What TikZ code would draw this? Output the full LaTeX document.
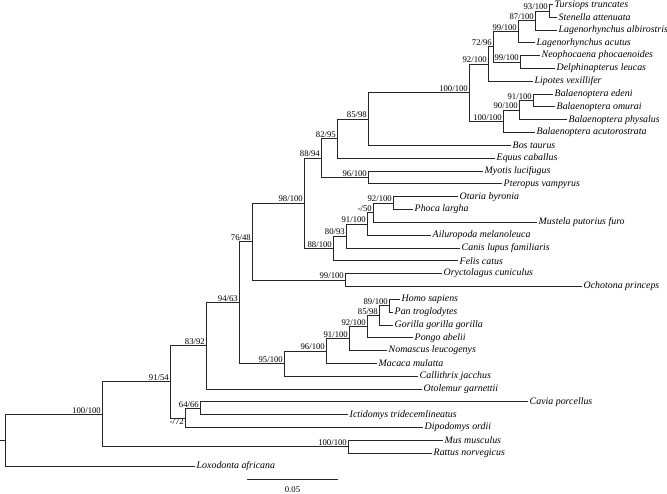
\documentclass[tikz,border=0pt]{standalone}
\usepackage{fontspec}
\setmainfont{Liberation Serif}
\begin{document}
\begin{tikzpicture}[x=1pt,y=-1pt,
  branch/.style={draw=black!85, line width=0.8pt},
  leaf/.style={anchor=west, inner sep=1.5pt, font=\fontsize{9.9}{11}\selectfont\itshape},
  sup/.style={anchor=south east, inner sep=1pt, font=\fontsize{8.7}{9}\selectfont},
  supb/.style={anchor=north east, inner sep=1pt, font=\fontsize{8.7}{9}\selectfont}]
\useasboundingbox (0,0) rectangle (667,494);
% leaves
\node[leaf] (tur) at (553,4.8) {Tursiops truncates};
\node[leaf] (ste) at (557,17.125) {Stenella attenuata};
\node[leaf] (lal) at (557,29.95) {Lagenorhynchus albirostris};
\node[leaf] (lac) at (535,42.775) {Lagenorhynchus acutus};
\node[leaf] (neo) at (540,55.6) {Neophocaena phocaenoides};
\node[leaf] (del) at (555,68.425) {Delphinapterus leucas};
\node[leaf] (lip) at (533,81.25) {Lipotes vexillifer};
\node[leaf] (bed) at (553,94.075) {Balaenoptera edeni};
\node[leaf] (bom) at (555,106.9) {Balaenoptera omurai};
\node[leaf] (bph) at (567,119.725) {Balaenoptera physalus};
\node[leaf] (bac) at (535,132.55) {Balaenoptera acutorostrata};
\node[leaf] (bos) at (511,145.375) {Bos taurus};
\node[leaf] (equ) at (495,158.2) {Equus caballus};
\node[leaf] (myo) at (483,171.025) {Myotis lucifugus};
\node[leaf] (pte) at (502,183.85) {Pteropus vampyrus};
\node[leaf] (ota) at (458,196.675) {Otaria byronia};
\node[leaf] (pho) at (413,209.5) {Phoca largha};
\node[leaf] (mus) at (537,222.325) {Mustela putorius furo};
\node[leaf] (ail) at (431,235.15) {Ailuropoda melanoleuca};
\node[leaf] (can) at (460,247.975) {Canis lupus familiaris};
\node[leaf] (fel) at (458,260.8) {Felis catus};
\node[leaf] (ory) at (442,273.625) {Oryctolagus cuniculus};
\node[leaf] (och) at (582,286.45) {Ochotona princeps};
\node[leaf] (hom) at (400,299.275) {Homo sapiens};
\node[leaf] (pan) at (393,312.1) {Pan troglodytes};
\node[leaf] (gor) at (393,324.925) {Gorilla gorilla gorilla};
\node[leaf] (pon) at (413,337.75) {Pongo abelii};
\node[leaf] (nom) at (387,350.575) {Nomascus leucogenys};
\node[leaf] (mac) at (377,363.4) {Macaca mulatta};
\node[leaf] (cal) at (418,376.225) {Callithrix jacchus};
\node[leaf] (oto) at (422,389.05) {Otolemur garnettii};
\node[leaf] (cav) at (528,401.875) {Cavia porcellus};
\node[leaf] (ict) at (348,414.7) {Ictidomys tridecemlineatus};
\node[leaf] (dip) at (423,427.525) {Dipodomys ordii};
\node[leaf] (mmu) at (443,440.35) {Mus musculus};
\node[leaf] (rat) at (432,453.175) {Rattus norvegicus};
\node[leaf] (lox) at (195,466) {Loxodonta africana};
% internal nodes
\coordinate (n93) at (549,10.96);
\coordinate (n87) at (535,20.33);
\coordinate (n99a) at (518,31.55);
\coordinate (n99b) at (520,62.01);
\coordinate (n72) at (493,46.78);
\coordinate (n92) at (488,64.02);
\coordinate (n91b) at (533,100.49);
\coordinate (n90) at (519,110.1);
\coordinate (nbal) at (503,121.33);
\coordinate (nwh) at (469,92.67);
\coordinate (n85) at (368,119.02);
\coordinate (n82) at (337,138.6);
\coordinate (nbat) at (368,177.4);
\coordinate (n88a) at (321,158);
\coordinate (n92c) at (393,203.1);
\coordinate (n50) at (373,212.7);
\coordinate (n91c) at (367,224);
\coordinate (n80) at (346,236);
\coordinate (n88c) at (333,248.4);
\coordinate (n98) at (304,203.2);
\coordinate (nlag) at (345,280);
\coordinate (n76) at (252,241.6);
\coordinate (n89) at (389,305.7);
\coordinate (n85p) at (379,315.3);
\coordinate (n92p) at (367,326.5);
\coordinate (n91p) at (349,338.5);
\coordinate (n96p) at (326,351);
\coordinate (n95p) at (284,363.6);
\coordinate (n94) at (239,302.6);
\coordinate (n83) at (206,345.8);
\coordinate (n64) at (200,408.3);
\coordinate (n72r) at (185,417.9);
\coordinate (n9154) at (170,381.9);
\coordinate (nmr) at (348,446.8);
\coordinate (npl) at (102,414.3);
\coordinate (root) at (5,440.2);
\coordinate (stub) at (0,440.2);
% support labels
\node[sup] (l93) at (n93) {93/100};
\node[sup] (l87) at (n87) {87/100};
\node[sup] (l99a) at (n99a) {99/100};
\node[sup] (l99b) at (n99b) {99/100};
\node[sup] (l72) at (n72) {72/96};
\node[sup] (l92) at (n92) {92/100};
\node[sup] (l91b) at (n91b) {91/100};
\node[sup] (l90) at (n90) {90/100};
\node[sup] (lbal) at (nbal) {100/100};
\node[sup] (lwh) at (nwh) {100/100};
\node[sup] (l85) at (n85) {85/98};
\node[sup] (l82) at (n82) {82/95};
\node[sup] (lbat) at (nbat) {96/100};
\node[sup] (l88a) at (n88a) {88/94};
\node[sup] (l92c) at (n92c) {92/100};
\node[sup] (l50) at (n50) {-/50};
\node[sup] (l91c) at (n91c) {91/100};
\node[sup] (l80) at (n80) {80/93};
\node[sup] (l88c) at (n88c) {88/100};
\node[sup] (l98) at (n98) {98/100};
\node[sup] (llag) at (nlag) {99/100};
\node[sup] (l76) at (n76) {76/48};
\node[sup] (l89) at (n89) {89/100};
\node[sup] (l85p) at (n85p) {85/98};
\node[sup] (l92p) at (n92p) {92/100};
\node[sup] (l91p) at (n91p) {91/100};
\node[sup] (l96p) at (n96p) {96/100};
\node[sup] (l95p) at (n95p) {95/100};
\node[sup] (l94) at (n94) {94/63};
\node[sup] (l83) at (n83) {83/92};
\node[sup] (l64) at (n64) {64/66};
\node[supb] (l72r) at (n72r) {-/72};
\node[sup] (l9154) at (n9154) {91/54};
\node[sup] (lmr) at (nmr) {100/100};
\node[sup] (lpl) at (npl) {100/100};
% branches
\draw[branch] (n93) |- (tur.west); \draw[branch] (n93) |- (ste.west);
\draw[branch] (n87) |- (n93); \draw[branch] (n87) |- (lal.west);
\draw[branch] (n99a) |- (n87); \draw[branch] (n99a) |- (lac.west);
\draw[branch] (n99b) |- (neo.west); \draw[branch] (n99b) |- (del.west);
\draw[branch] (n72) |- (n99a); \draw[branch] (n72) |- (n99b);
\draw[branch] (n92) |- (n72); \draw[branch] (n92) |- (lip.west);
\draw[branch] (n91b) |- (bed.west); \draw[branch] (n91b) |- (bom.west);
\draw[branch] (n90) |- (n91b); \draw[branch] (n90) |- (bph.west);
\draw[branch] (nbal) |- (n90); \draw[branch] (nbal) |- (bac.west);
\draw[branch] (nwh) |- (n92); \draw[branch] (nwh) |- (nbal);
\draw[branch] (n85) |- (nwh); \draw[branch] (n85) |- (bos.west);
\draw[branch] (n82) |- (n85); \draw[branch] (n82) |- (equ.west);
\draw[branch] (nbat) |- (myo.west); \draw[branch] (nbat) |- (pte.west);
\draw[branch] (n88a) |- (n82); \draw[branch] (n88a) |- (nbat);
\draw[branch] (n92c) |- (ota.west); \draw[branch] (n92c) |- (pho.west);
\draw[branch] (n50) |- (n92c); \draw[branch] (n50) |- (mus.west);
\draw[branch] (n91c) |- (n50); \draw[branch] (n91c) |- (ail.west);
\draw[branch] (n80) |- (n91c); \draw[branch] (n80) |- (can.west);
\draw[branch] (n88c) |- (n80); \draw[branch] (n88c) |- (fel.west);
\draw[branch] (n98) |- (n88a); \draw[branch] (n98) |- (n88c);
\draw[branch] (nlag) |- (ory.west); \draw[branch] (nlag) |- (och.west);
\draw[branch] (n76) |- (n98); \draw[branch] (n76) |- (nlag);
\draw[branch] (n89) |- (hom.west); \draw[branch] (n89) |- (pan.west);
\draw[branch] (n85p) |- (n89); \draw[branch] (n85p) |- (gor.west);
\draw[branch] (n92p) |- (n85p); \draw[branch] (n92p) |- (pon.west);
\draw[branch] (n91p) |- (n92p); \draw[branch] (n91p) |- (nom.west);
\draw[branch] (n96p) |- (n91p); \draw[branch] (n96p) |- (mac.west);
\draw[branch] (n95p) |- (n96p); \draw[branch] (n95p) |- (cal.west);
\draw[branch] (n94) |- (n76); \draw[branch] (n94) |- (n95p);
\draw[branch] (n83) |- (n94); \draw[branch] (n83) |- (oto.west);
\draw[branch] (n64) |- (cav.west); \draw[branch] (n64) |- (ict.west);
\draw[branch] (n72r) |- (n64); \draw[branch] (n72r) |- (dip.west);
\draw[branch] (n9154) |- (n83); \draw[branch] (n9154) |- (n72r);
\draw[branch] (nmr) |- (mmu.west); \draw[branch] (nmr) |- (rat.west);
\draw[branch] (npl) |- (n9154); \draw[branch] (npl) |- (nmr);
\draw[branch] (root) |- (npl); \draw[branch] (root) |- (lox.west);
\draw[branch] (stub) -- (root);
% scale bar
\coordinate (sb1) at (247,479.5);
\coordinate (sb2) at (338,479.5);
\draw[branch] (sb1) -- (sb2);
\node[font=\fontsize{8.7}{9}\selectfont, inner sep=0pt] (sbl) at (292.5,489.5) {0.05};
\end{tikzpicture}
\end{document}
